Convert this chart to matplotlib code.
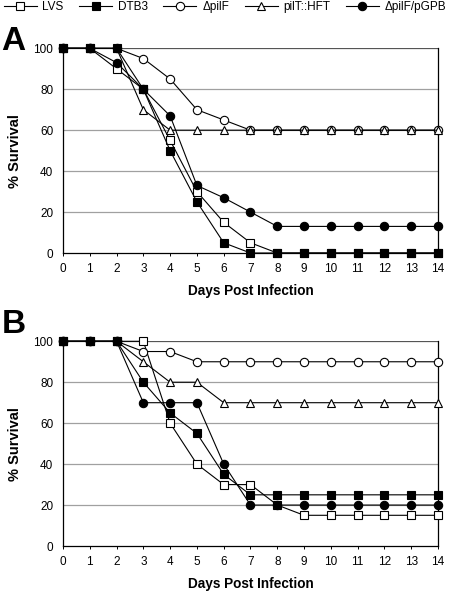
import matplotlib
matplotlib.use("Agg")
import matplotlib.pyplot as plt
from matplotlib.lines import Line2D

plt.rcParams['font.family'] = ['Liberation Sans', 'DejaVu Sans']

days = list(range(15))
series_names = ["LVS", "DTB3", "\u0394pilF", "pilT::HFT", "\u0394pilF/pGPB"]

# Panel A
A_LVS   = [100, 100, 90, 80, 55, 30, 15, 5, 0, 0, 0, 0, 0, 0, 0]
A_DTB3  = [100, 100, 100, 80, 50, 25, 5, 0, 0, 0, 0, 0, 0, 0, 0]
A_pilF  = [100, 100, 100, 95, 85, 70, 65, 60, 60, 60, 60, 60, 60, 60, 60]
A_pilT  = [100, 100, 100, 70, 60, 60, 60, 60, 60, 60, 60, 60, 60, 60, 60]
A_pGPB  = [100, 100, 93, 80, 67, 33, 27, 20, 13, 13, 13, 13, 13, 13, 13]

# Panel B
B_LVS   = [100, 100, 100, 100, 60, 40, 30, 30, 20, 15, 15, 15, 15, 15, 15]
B_DTB3  = [100, 100, 100, 80, 65, 55, 35, 25, 25, 25, 25, 25, 25, 25, 25]
B_pilF  = [100, 100, 100, 95, 95, 90, 90, 90, 90, 90, 90, 90, 90, 90, 90]
B_pilT  = [100, 100, 100, 90, 80, 80, 70, 70, 70, 70, 70, 70, 70, 70, 70]
B_pGPB  = [100, 100, 100, 70, 70, 70, 40, 20, 20, 20, 20, 20, 20, 20, 20]

yticks = [0, 20, 40, 60, 80, 100]

styles = {
    "LVS": dict(marker='s', mfc='white', ms=5.8),
    "DTB3": dict(marker='s', mfc='black', ms=5.8),
    "\u0394pilF": dict(marker='o', mfc='white', ms=6),
    "pilT::HFT": dict(marker='^', mfc='white', ms=6.3),
    "\u0394pilF/pGPB": dict(marker='o', mfc='black', ms=6),
}
draw_order = ["LVS", "\u0394pilF", "pilT::HFT", "\u0394pilF/pGPB", "DTB3"]

fig = plt.figure(figsize=(4.5, 5.92), dpi=100)
axA = fig.add_axes([0.14, 0.5726, 0.8333, 0.3458])
axB = fig.add_axes([0.14, 0.0777, 0.8333, 0.3458])

def draw(ax, data, letter, letter_y):
    for name in draw_order:
        st = styles[name]
        ax.plot(days, data[name], color='black', lw=0.8, marker=st['marker'],
                mfc=st['mfc'], mec='black', mew=0.8, ms=st['ms'], clip_on=False, zorder=3)
    ax.set_xlim(0, 14)
    ax.set_ylim(0, 100)
    ax.set_xticks(days)
    ax.set_yticks(yticks)
    for y in [20, 40, 60, 80]:
        ax.axhline(y, color='#a0a0a0', lw=0.9, zorder=1)
    ax.axhline(100, color='#555555', lw=0.9, zorder=1)
    ax.spines['top'].set_visible(False)
    ax.spines['right'].set_color('black')
    ax.spines['right'].set_linewidth(0.9)
    ax.spines['left'].set_linewidth(0.9)
    ax.spines['bottom'].set_linewidth(0.9)
    ax.tick_params(axis='x', direction='out', length=2.5, width=0.7, labelsize=8.5, pad=4.5)
    ax.tick_params(axis='y', length=0, labelsize=8.5, pad=7)
    ax.set_xlabel("Days Post Infection", fontsize=9.8, fontweight='bold', labelpad=6.5)
    ax.set_ylabel("% Survival", fontsize=10.5, fontweight='bold', labelpad=8)
    fig.text(0.003, letter_y, letter, fontsize=24, fontweight='bold',
             ha='left', va='top')

draw(axA, {"LVS": A_LVS, "DTB3": A_DTB3, "\u0394pilF": A_pilF,
           "pilT::HFT": A_pilT, "\u0394pilF/pGPB": A_pGPB}, "A", 1 - 26/592)
draw(axB, {"LVS": B_LVS, "DTB3": B_DTB3, "\u0394pilF": B_pilF,
           "pilT::HFT": B_pilT, "\u0394pilF/pGPB": B_pGPB}, "B", 1 - 309/592)

handles = [Line2D([], [], color='black', lw=0.8, marker=styles[n]['marker'],
                  mfc=styles[n]['mfc'], mec='black', mew=0.8, ms=styles[n]['ms'])
           for n in series_names]
fig.legend(handles, series_names, loc='center', bbox_to_anchor=(0.5, 1 - 7/592),
           ncol=5, frameon=False, fontsize=8.5, handlelength=2.8, handletextpad=0.5,
           columnspacing=1.3, borderaxespad=0, borderpad=0)

fig.savefig("out.png", dpi=100)
